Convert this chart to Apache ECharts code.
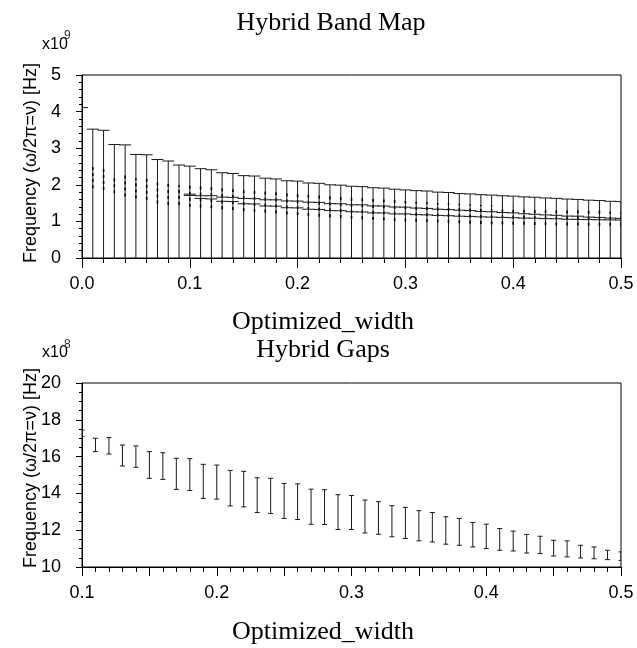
<!DOCTYPE html>
<html>
<head>
<meta charset="utf-8">
<script src="https://cdn.jsdelivr.net/npm/echarts@6/dist/echarts.min.js"></script>
<style>
html,body{margin:0;padding:0;background:#fff;}
#chart{width:637px;height:648px;}
</style>
</head>
<body>
<div id="chart"></div>
<script>
// ---- Top chart: Hybrid Band Map (values in x10^9 Hz) ----
const bandWidths = [0.00,0.01,0.02,0.03,0.04,0.05,0.06,0.07,0.08,0.09,0.10,
  0.11,0.12,0.13,0.14,0.15,0.16,0.17,0.18,0.19,0.20,
  0.21,0.22,0.23,0.24,0.25,0.26,0.27,0.28,0.29,0.30,
  0.31,0.32,0.33,0.34,0.35,0.36,0.37,0.38,0.39,0.40,
  0.41,0.42,0.43,0.44,0.45,0.46,0.47,0.48,0.49,0.50];
const bandTop = [4.11,3.52,3.49,3.10,3.09,2.83,2.82,2.69,2.65,2.54,2.51,
  2.44,2.41,2.33,2.31,2.25,2.24,2.18,2.16,2.11,2.10,
  2.05,2.04,2.00,1.99,1.96,1.95,1.92,1.91,1.88,1.86,
  1.84,1.83,1.80,1.79,1.76,1.75,1.73,1.72,1.70,1.69,
  1.67,1.66,1.64,1.63,1.61,1.60,1.58,1.57,1.55,1.54];
const modeHigh = [null,2.51,2.50,2.27,2.27,2.18,2.18,2.08,2.08,1.99,1.99,
  1.95,1.93,1.90,1.88,1.86,1.84,1.82,1.80,1.78,1.76,
  1.74,1.72,1.70,1.68,1.66,1.64,1.62,1.60,1.58,1.56,
  1.54,1.52,1.50,1.49,1.48,1.47,1.45,1.44,1.42,1.41,
  1.39,1.38,1.36,1.35,1.33,1.32,1.30,1.29,1.27,1.26];
const modeLow = [null,1.91,1.86,1.77,1.68,1.63,1.59,1.49,1.45,1.45,1.40,
  1.38,1.36,1.33,1.31,1.28,1.26,1.24,1.22,1.19,1.17,
  1.15,1.13,1.11,1.09,1.07,1.06,1.04,1.03,1.01,1.00,
  0.99,0.98,0.97,0.96,0.95,0.94,0.93,0.92,0.92,0.91,
  0.91,0.90,0.90,0.89,0.89,0.89,0.88,0.88,0.88,0.88];

// ---- Bottom chart: Hybrid Gaps (values in x10^8 Hz) ----
const gapWidths = [0.10,0.11,0.12,0.13,0.14,0.15,0.16,0.17,0.18,0.19,0.20,
  0.21,0.22,0.23,0.24,0.25,0.26,0.27,0.28,0.29,0.30,
  0.31,0.32,0.33,0.34,0.35,0.36,0.37,0.38,0.39,0.40,
  0.41,0.42,0.43,0.44,0.45,0.46,0.47,0.48,0.49,0.50];
const gapUpper = [17.45,17.00,17.03,16.63,16.58,16.27,16.21,15.91,15.89,15.58,15.54,
  15.25,15.20,14.85,14.82,14.54,14.52,14.23,14.20,13.93,13.89,
  13.64,13.55,13.33,13.24,13.06,12.96,12.73,12.64,12.42,12.33,
  12.09,11.95,11.77,11.67,11.45,11.42,11.18,11.09,10.91,10.82];
const gapLower = [17.09,16.27,16.14,15.49,15.42,14.82,14.76,14.22,14.16,13.73,13.69,
  13.32,13.27,12.96,12.91,12.64,12.58,12.32,12.31,12.04,12.04,
  11.85,11.78,11.64,11.55,11.42,11.36,11.24,11.18,11.09,11.00,
  10.91,10.87,10.76,10.73,10.60,10.55,10.49,10.45,10.40,10.36];

const topTicks = [0, 1, 2, 3, 4, 5];
const bottomTicks = [10, 12, 14, 16, 18, 20];

const chart = echarts.init(document.getElementById('chart'), null, {renderer: 'canvas'});
const sans = 'Liberation Sans, Arial, sans-serif';
const serif = 'Liberation Serif, Times New Roman, serif';
const ink = '#000';
const tickFont = 18;

function axisCommon(extra) {
  return Object.assign({
    type: 'value',
    axisLine: {show: true, lineStyle: {color: ink, width: 1}},
    axisTick: {show: true, inside: false, length: 9, lineStyle: {color: ink}},
    minorTick: {show: true, length: 5, lineStyle: {color: ink}},
    splitLine: {show: false},
    minorSplitLine: {show: false},
    axisLabel: {color: ink, fontFamily: sans, fontSize: tickFont}
  }, extra);
}

const bandData = bandWidths.map((w, i) => [w, bandTop[i], modeLow[i], modeHigh[i]]);
const gapTopData = gapWidths.map((w, i) => [w, gapUpper[i] / 10, gapLower[i] / 10]);
const gapData = gapWidths.map((w, i) => [w, gapUpper[i], gapLower[i]]);

const option = {
  animation: false,
  backgroundColor: '#fff',
  grid: [
    {left: 82, right: 16, top: 75, height: 183, show: true, borderColor: ink, borderWidth: 1, backgroundColor: 'transparent'},
    {left: 82, right: 16, top: 383, height: 184, show: true, borderColor: ink, borderWidth: 1, backgroundColor: 'transparent'}
  ],
  xAxis: [
    axisCommon({gridIndex: 0, min: 0, max: 0.5, interval: 0.1,
      axisTick: {show: true, inside: false, length: 10, lineStyle: {color: ink}},
      minorTick: {show: true, splitNumber: 5, length: 5, lineStyle: {color: ink}},
      axisLabel: {color: ink, fontFamily: sans, fontSize: tickFont, margin: 17,
        formatter: v => v.toFixed(1)}}),
    axisCommon({gridIndex: 1, min: 0.1, max: 0.5, interval: 0.05,
      axisTick: {show: true, inside: false, length: 9, lineStyle: {color: ink}},
      minorTick: {show: true, splitNumber: 5, length: 5, lineStyle: {color: ink}},
      axisLabel: {color: ink, fontFamily: sans, fontSize: tickFont, margin: 17,
        formatter: v => (Math.round(v * 100) % 10 === 0 ? v.toFixed(1) : '')}})
  ],
  yAxis: [
    axisCommon({gridIndex: 0, min: topTicks[0], max: topTicks[topTicks.length - 1], interval: 1,
      axisTick: {show: true, inside: false, length: 6, lineStyle: {color: ink}},
      minorTick: {show: true, splitNumber: 5, length: 3, lineStyle: {color: ink}},
      axisLabel: {color: ink, fontFamily: sans, fontSize: tickFont, margin: 21}}),
    axisCommon({gridIndex: 1, min: bottomTicks[0], max: bottomTicks[bottomTicks.length - 1], interval: 2,
      axisTick: {show: true, inside: false, length: 6, lineStyle: {color: ink}},
      minorTick: {show: true, splitNumber: 4, length: 3, lineStyle: {color: ink}},
      axisLabel: {color: ink, fontFamily: sans, fontSize: tickFont, margin: 21}})
  ],
  series: [
    {
      type: 'custom', xAxisIndex: 0, yAxisIndex: 0, clip: true,
      data: bandData,
      encode: {x: 0, y: [1, 2, 3]},
      renderItem: function (params, api) {
        const x = api.value(0);
        const base = api.coord([x, 0]);
        const top = api.coord([x, api.value(1)]);
        const children = [
          {type: 'line', shape: {x1: top[0], y1: base[1], x2: top[0], y2: top[1]},
            style: {stroke: '#1a1a1a', lineWidth: 1}},
          {type: 'line', shape: {x1: top[0] - 6, y1: top[1], x2: top[0] + 6, y2: top[1]},
            style: {stroke: '#1a1a1a', lineWidth: 1}}
        ];
        const lo = api.value(2), hi = api.value(3);
        if (!isNaN(lo) && !isNaN(hi) && x > 0) {
          const a = api.coord([x, lo]);
          const b = api.coord([x, hi]);
          children.push({type: 'line', shape: {x1: a[0], y1: a[1], x2: b[0], y2: b[1]},
            style: {stroke: '#000', lineWidth: 1.6, lineDash: [3, 3]}});
        }
        return {type: 'group', children: children};
      }
    },
    {
      type: 'custom', xAxisIndex: 0, yAxisIndex: 0, clip: true,
      data: gapTopData,
      encode: {x: 0, y: [1, 2]},
      renderItem: function (params, api) {
        const x = api.value(0);
        const u = api.coord([x, api.value(1)]);
        const l = api.coord([x, api.value(2)]);
        return {type: 'group', children: [
          {type: 'line', shape: {x1: u[0] - 6, y1: u[1], x2: u[0] + 6, y2: u[1]},
            style: {stroke: '#1a1a1a', lineWidth: 1}},
          {type: 'line', shape: {x1: l[0] - 6, y1: l[1], x2: l[0] + 6, y2: l[1]},
            style: {stroke: '#1a1a1a', lineWidth: 1}}
        ]};
      }
    },
    {
      type: 'custom', xAxisIndex: 1, yAxisIndex: 1, clip: true,
      data: gapData,
      encode: {x: 0, y: [1, 2]},
      renderItem: function (params, api) {
        const x = api.value(0);
        const u = api.coord([x, api.value(1)]);
        const l = api.coord([x, api.value(2)]);
        const s = {stroke: '#1a1a1a', lineWidth: 1};
        return {type: 'group', children: [
          {type: 'line', shape: {x1: u[0], y1: u[1], x2: l[0], y2: l[1]}, style: s},
          {type: 'line', shape: {x1: u[0] - 2.5, y1: u[1], x2: u[0] + 2.5, y2: u[1]}, style: s},
          {type: 'line', shape: {x1: l[0] - 2.5, y1: l[1], x2: l[0] + 2.5, y2: l[1]}, style: s}
        ]};
      }
    }
  ],
  graphic: [
    {type: 'text', x: 331, y: 23, style: {text: 'Hybrid Band Map', font: '26px ' + serif, fill: ink, align: 'center', verticalAlign: 'middle'}},
    {type: 'text', x: 323, y: 322, style: {text: 'Optimized_width', font: '26px ' + serif, fill: ink, align: 'center', verticalAlign: 'middle'}},
    {type: 'text', x: 323, y: 350, style: {text: 'Hybrid Gaps', font: '26px ' + serif, fill: ink, align: 'center', verticalAlign: 'middle'}},
    {type: 'text', x: 323, y: 632, style: {text: 'Optimized_width', font: '26px ' + serif, fill: ink, align: 'center', verticalAlign: 'middle'}},
    {type: 'text', x: 31, y: 163, rotation: Math.PI / 2, style: {text: 'Frequency (\u03c9/2\u03c0=\u03bd) [Hz]', font: '18px ' + sans, fill: ink, align: 'center', verticalAlign: 'middle'}},
    {type: 'text', x: 31, y: 468, rotation: Math.PI / 2, style: {text: 'Frequency (\u03c9/2\u03c0=\u03bd) [Hz]', font: '18px ' + sans, fill: ink, align: 'center', verticalAlign: 'middle'}},
    {type: 'text', x: 42, y: 45, style: {text: 'x10', font: '16px ' + sans, fill: ink, align: 'left', verticalAlign: 'middle'}},
    {type: 'text', x: 64, y: 36, style: {text: '9', font: '12px ' + sans, fill: '#333', align: 'left', verticalAlign: 'middle'}},
    {type: 'text', x: 42, y: 353, style: {text: 'x10', font: '16px ' + sans, fill: ink, align: 'left', verticalAlign: 'middle'}},
    {type: 'text', x: 64, y: 345, style: {text: '8', font: '12px ' + sans, fill: '#333', align: 'left', verticalAlign: 'middle'}}
  ]
};
chart.setOption(option);
</script>
</body>
</html>
